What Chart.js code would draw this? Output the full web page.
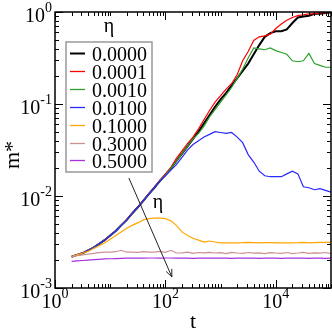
<!DOCTYPE html>
<html>
<head>
<meta charset="utf-8">
<script src="https://cdn.jsdelivr.net/npm/chart.js@4/dist/chart.umd.min.js"></script>
<style>
  html, body { margin: 0; padding: 0; background: #fff; }
  #wrap { width: 332px; height: 332px; }
</style>
</head>
<body>
<div id="wrap"><canvas id="chart" width="332" height="332"></canvas></div>
<script>
// time axis (shared by all runs)
const T = [2, 2.5, 3.2, 4, 5, 6.3, 7.9, 10, 12.6, 15.8, 20, 25, 32, 40, 50, 63, 79, 100,
  126, 158, 200, 251, 316, 398, 501, 631, 794, 1000, 1260, 1580, 2000, 2510, 3160, 3980,
  5010, 6310, 7940, 10000, 12600, 15800, 20000, 25100, 31600, 39800, 50100, 63100, 79400, 100000];

const ETA = ['0.0000', '0.0001', '0.0010', '0.0100', '0.1000', '0.3000', '0.5000'];
const COLORS = ['#000000', '#ff0000', '#2ea02e', '#2828ff', '#ffa500', '#cc9090', '#a830e0'];

// m* for each eta
const M0 = [0.00219, 0.00229, 0.00240, 0.00257, 0.00275, 0.00302, 0.00331, 0.00372, 0.00417, 0.00479,
  0.00550, 0.00646, 0.00759, 0.00891, 0.0105, 0.0123, 0.0145, 0.0170, 0.0200, 0.0240,
  0.0288, 0.0347, 0.0417, 0.0501, 0.0617, 0.0759, 0.0933, 0.112, 0.132, 0.158,
  0.191, 0.229, 0.275, 0.347, 0.437, 0.537, 0.589, 0.617, 0.617, 0.646,
  0.759, 0.871, 0.891, 0.912, 0.955, 0.955, 0.977, 0.989];
const M1 = [0.00219, 0.00229, 0.00241, 0.00258, 0.00276, 0.00303, 0.00333, 0.00374, 0.00420, 0.00483,
  0.00556, 0.00652, 0.00768, 0.00900, 0.0106, 0.0125, 0.0148, 0.0174, 0.0205, 0.0257,
  0.0309, 0.0372, 0.0437, 0.0537, 0.0676, 0.0851, 0.105, 0.123, 0.145, 0.166,
  0.209, 0.295, 0.372, 0.490, 0.537, 0.550, 0.575, 0.661, 0.741, 0.813,
  0.871, 0.912, 0.933, 0.955, 0.955, 0.977, 0.977, 0.989];
const M2 = [0.00219, 0.00229, 0.00240, 0.00257, 0.00275, 0.00302, 0.00331, 0.00372, 0.00417, 0.00479,
  0.00550, 0.00646, 0.00759, 0.00891, 0.0105, 0.0123, 0.0145, 0.0170, 0.0200, 0.0240,
  0.0288, 0.0347, 0.0417, 0.0479, 0.0575, 0.0724, 0.0871, 0.105, 0.126, 0.151,
  0.191, 0.240, 0.316, 0.407, 0.398, 0.389, 0.407, 0.380, 0.363, 0.347,
  0.295, 0.288, 0.295, 0.355, 0.275, 0.263, 0.251, 0.251];
const M3 = [0.00219, 0.00229, 0.00240, 0.00257, 0.00275, 0.00302, 0.00331, 0.00372, 0.00417, 0.00479,
  0.00550, 0.00646, 0.00759, 0.00891, 0.0105, 0.0123, 0.0145, 0.0166, 0.0191, 0.0219,
  0.0263, 0.0316, 0.0363, 0.0398, 0.0437, 0.0468, 0.0501, 0.0490, 0.0479, 0.0490,
  0.0437, 0.0380, 0.0282, 0.0234, 0.0186, 0.0166, 0.0162, 0.0162, 0.0162, 0.0174,
  0.0186, 0.0174, 0.0126, 0.0123, 0.0117, 0.0120, 0.0115, 0.0110];
const M4 = [0.00219, 0.00229, 0.00240, 0.00251, 0.00269, 0.00288, 0.00309, 0.00339, 0.00372, 0.00407,
  0.00447, 0.00479, 0.00513, 0.00550, 0.00569, 0.00575, 0.00575, 0.00569, 0.00537, 0.00479,
  0.00407, 0.00372, 0.00347, 0.00331, 0.00316, 0.00324, 0.00316, 0.00309, 0.00310, 0.00309,
  0.00310, 0.00311, 0.00314, 0.00312, 0.00310, 0.00311, 0.00312, 0.00310, 0.00310, 0.00309,
  0.00310, 0.00311, 0.00313, 0.00310, 0.00312, 0.00313, 0.00314, 0.00314];
const M5 = [0.00219, 0.00224, 0.00229, 0.00234, 0.00238, 0.00242, 0.00245, 0.00245, 0.00248, 0.00257,
  0.00245, 0.00246, 0.00244, 0.00249, 0.00245, 0.00246, 0.00250, 0.00244, 0.00257, 0.00240,
  0.00241, 0.00245, 0.00238, 0.00243, 0.00241, 0.00244, 0.00240, 0.00242, 0.00237, 0.00244,
  0.00240, 0.00238, 0.00243, 0.00239, 0.00241, 0.00236, 0.00242, 0.00240, 0.00238, 0.00243,
  0.00237, 0.00240, 0.00244, 0.00238, 0.00241, 0.00239, 0.00243, 0.00236];
const M6 = [0.00195, 0.00197, 0.00199, 0.00201, 0.00203, 0.00205, 0.00207, 0.00208, 0.00209, 0.00210,
  0.00211, 0.00211, 0.00212, 0.00211, 0.00212, 0.00212, 0.00211, 0.00212, 0.00212, 0.00211,
  0.00212, 0.00211, 0.00210, 0.00211, 0.00212, 0.00211, 0.00211, 0.00212, 0.00211, 0.00210,
  0.00211, 0.00212, 0.00211, 0.00211, 0.00210, 0.00211, 0.00212, 0.00211, 0.00210, 0.00211,
  0.00211, 0.00212, 0.00211, 0.00210, 0.00211, 0.00211, 0.00210, 0.00211];
const SERIES = [M0, M1, M2, M3, M4, M5, M6];

// axis labels (exponents of 10) and arrow annotation in data units
const X_LABELS = [0, 2, 4];
const Y_LABELS = [0, -1, -2, -3];
const ARROW_FROM = [21.8, 0.0157];
const ARROW_TO = [131, 0.00132];
const ARROW_TEXT_AT = [73, 0.0084];

const SERIF = '"Liberation Serif", "DejaVu Serif", serif';

function drawPow(ctx, exp, x, base, align) {
  ctx.font = '20px ' + SERIF;
  const w1 = ctx.measureText('10').width;
  ctx.font = '14px ' + SERIF;
  const w2 = ctx.measureText(String(exp)).width;
  let left = align === 'right' ? x - w1 - w2 : x - (w1 + w2) / 2;
  ctx.textAlign = 'left';
  ctx.textBaseline = 'alphabetic';
  ctx.font = '20px ' + SERIF;
  ctx.fillText('10', left, base);
  ctx.font = '14px ' + SERIF;
  ctx.fillText(String(exp), left + w1, base - 10);
}

const decor = {
  id: 'decor',
  afterDraw(chart) {
    const { ctx, chartArea: a, scales: { x, y } } = chart;
    ctx.save();
    ctx.strokeStyle = '#000';
    ctx.fillStyle = '#000';

    // ticks, mirrored on all sides
    ctx.lineWidth = 1;
    ctx.beginPath();
    for (let d = 0; d <= 5; d++) {
      for (let k = 1; k <= 9; k++) {
        const v = k * Math.pow(10, d);
        if (v > 1e5) break;
        const px = Math.round(x.getPixelForValue(v)) + 0.5;
        const len = (k === 1 && d % 2 === 0) ? 8 : 4;
        ctx.moveTo(px, a.bottom); ctx.lineTo(px, a.bottom - len);
        ctx.moveTo(px, a.top); ctx.lineTo(px, a.top + len);
      }
    }
    for (let d = -3; d <= 0; d++) {
      for (let k = 1; k <= 9; k++) {
        const v = k * Math.pow(10, d);
        if (v > 1) break;
        const py = Math.round(y.getPixelForValue(v)) + 0.5;
        const len = k === 1 ? 8 : 4;
        ctx.moveTo(a.left, py); ctx.lineTo(a.left + len, py);
        ctx.moveTo(a.right, py); ctx.lineTo(a.right - len, py);
      }
    }
    ctx.stroke();

    // frame
    ctx.lineWidth = 1.5;
    ctx.strokeRect(a.left, a.top, a.right - a.left, a.bottom - a.top);

    // tick labels
    X_LABELS.forEach(e => drawPow(ctx, e, x.getPixelForValue(Math.pow(10, e)), a.bottom + 20, 'center'));
    Y_LABELS.forEach(e => drawPow(ctx, e, a.left - 3, y.getPixelForValue(Math.pow(10, e)) + 10, 'right'));

    // axis titles
    ctx.font = '22px ' + SERIF;
    ctx.textAlign = 'center';
    ctx.textBaseline = 'alphabetic';
    ctx.fillText('t', (a.left + a.right) / 2, 328);
    ctx.save();
    ctx.translate(19, 155);
    ctx.rotate(-Math.PI / 2);
    ctx.fillText('m*', 0, 0);
    ctx.restore();

    // legend
    ctx.font = '20px ' + SERIF;
    ctx.fillText('η', 109, 32);
    ctx.strokeStyle = '#999';
    ctx.lineWidth = 1.5;
    ctx.strokeRect(66, 42, 86, 130);
    ETA.forEach((lab, i) => {
      const ly = Math.round(53 + 17.9 * i) + 0.5;
      ctx.strokeStyle = COLORS[i];
      ctx.lineWidth = i === 0 ? 2 : 1.3;
      ctx.beginPath(); ctx.moveTo(70, ly); ctx.lineTo(85, ly); ctx.stroke();
      ctx.fillStyle = '#000';
      ctx.textAlign = 'left';
      ctx.fillText(lab, 92, ly + 7);
    });

    // arrow
    const x0 = x.getPixelForValue(ARROW_FROM[0]), y0 = y.getPixelForValue(ARROW_FROM[1]);
    const x1 = x.getPixelForValue(ARROW_TO[0]), y1 = y.getPixelForValue(ARROW_TO[1]);
    const ang = Math.atan2(y1 - y0, x1 - x0);
    ctx.strokeStyle = '#222';
    ctx.lineWidth = 1;
    ctx.beginPath();
    ctx.moveTo(x0, y0); ctx.lineTo(x1, y1);
    ctx.moveTo(x1 - 8 * Math.cos(ang - 0.4), y1 - 8 * Math.sin(ang - 0.4));
    ctx.lineTo(x1, y1);
    ctx.lineTo(x1 - 8 * Math.cos(ang + 0.4), y1 - 8 * Math.sin(ang + 0.4));
    ctx.stroke();
    ctx.fillStyle = '#000';
    ctx.textAlign = 'center';
    ctx.textBaseline = 'middle';
    ctx.fillText('η', x.getPixelForValue(ARROW_TEXT_AT[0]), y.getPixelForValue(ARROW_TEXT_AT[1]));
    ctx.restore();
  }
};

const datasets = SERIES.map((m, i) => ({
  label: ETA[i],
  data: T.map((t, j) => ({ x: t, y: m[j] })),
  borderColor: COLORS[i],
  borderWidth: i === 0 ? 2 : 1.2,
  pointRadius: 0,
  tension: 0,
  fill: false,
  order: SERIES.length - i
}));

new Chart(document.getElementById('chart').getContext('2d'), {
  type: 'line',
  data: { datasets },
  options: {
    responsive: false,
    animation: false,
    layout: { padding: { top: 12, right: 1, left: 0, bottom: 0 } },
    plugins: { legend: { display: false }, tooltip: { enabled: false } },
    scales: {
      x: {
        type: 'logarithmic', min: 1, max: 1e5,
        ticks: { display: false }, grid: { display: false }, border: { display: false },
        afterFit: s => { s.height = 44; }
      },
      y: {
        type: 'logarithmic', min: 1e-3, max: 1,
        ticks: { display: false }, grid: { display: false }, border: { display: false },
        afterFit: s => { s.width = 55; }
      }
    }
  },
  plugins: [decor]
});
</script>
</body>
</html>
